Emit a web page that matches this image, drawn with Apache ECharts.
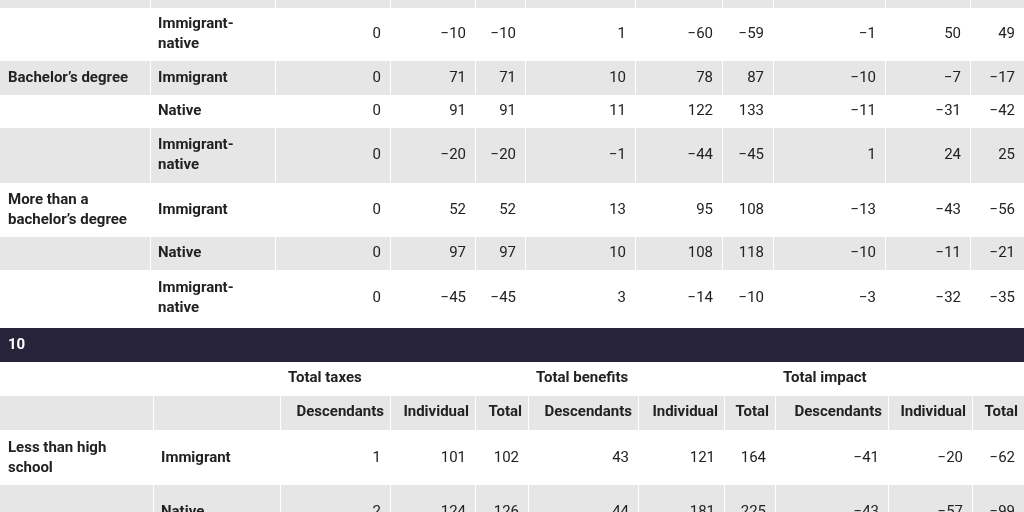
<!DOCTYPE html>
<html><head><meta charset="utf-8">
<script src="https://cdn.jsdelivr.net/npm/echarts@6/dist/echarts.min.js"></script>
<style>html,body{margin:0;padding:0;background:#fff}#main{width:1024px;height:512px}</style>
</head><body><div id="main"></div>
<script>
// upper block (continued table)
var groupsTop = ['', "Bachelor\u2019s degree", '', '', 'More than a\nbachelor\u2019s degree', '', ''];
var kindsTop = ['Immigrant-\nnative', 'Immigrant', 'Native', 'Immigrant-\nnative', 'Immigrant', 'Native', 'Immigrant-\nnative'];
var valuesTop = [
  [0, -10, -10, 1, -60, -59, -1, 50, 49],
  [0, 71, 71, 10, 78, 87, -10, -7, -17],
  [0, 91, 91, 11, 122, 133, -11, -31, -42],
  [0, -20, -20, -1, -44, -45, 1, 24, 25],
  [0, 52, 52, 13, 95, 108, -13, -43, -56],
  [0, 97, 97, 10, 108, 118, -10, -11, -21],
  [0, -45, -45, 3, -14, -10, -3, -32, -35]
];
var sectionTitle = '10';
var groupHeads = ['Total taxes', 'Total benefits', 'Total impact'];
var subHeads = ['Descendants', 'Individual', 'Total', 'Descendants', 'Individual', 'Total', 'Descendants', 'Individual', 'Total'];
var groupsBottom = ['Less than high\nschool', ''];
var kindsBottom = ['Immigrant', 'Native'];
var valuesBottom = [
  [1, 101, 102, 43, 121, 164, -41, -20, -62],
  [2, 124, 126, 44, 181, 225, -43, -57, -99]
];

var GRAY = '#e6e6e6', INK = '#222', FONT = 'Roboto';
var colsTop = [0, 150, 275, 390, 475, 525, 635, 722, 773, 885, 970, 1024];
var colsBot = [0, 153, 280, 390, 475, 528, 638, 724, 775, 888, 972, 1024];
var rowsTop = [8, 61, 95, 128, 183, 237, 270, 327];

function fmt(v) { return v < 0 ? '\u2212' + (-v) : String(v); }
var els = [];
function band(y0, y1, cols) {
  for (var c = 0; c < cols.length - 1; c++) {
    els.push({type: 'rect', shape: {x: cols[c] + (c ? 1 : 0), y: y0, width: cols[c + 1] - cols[c] - (c ? 1 : 0), height: y1 - y0}, style: {fill: GRAY}});
  }
}
function txt(x, y, s, bold, align, col) {
  els.push({type: 'text', x: x, y: y, style: {text: s, fill: col || INK, font: (bold ? 'bold ' : '') + '15px ' + FONT, align: align || 'left', verticalAlign: 'middle', lineHeight: 20}});
}
function rowsOf(groups, kinds, vals, rows, cols, grayFirst) {
  for (var r = 0; r < kinds.length; r++) {
    var y0 = rows[r], y1 = rows[r + 1], ym = (y0 + y1) / 2;
    if ((r % 2 === 0) === grayFirst) band(y0, y1, cols);
    if (groups[r]) txt(8, ym, groups[r], true);
    txt(cols[1] + 8, ym, kinds[r], true);
    for (var c = 0; c < vals[r].length; c++) txt(cols[c + 3] - 9, ym, fmt(vals[r][c]), false, 'right');
  }
}
// cut-off row above
band(0, 8, colsTop);
rowsOf(groupsTop, kindsTop, valuesTop, rowsTop, colsTop, false);
// section bar
els.push({type: 'rect', shape: {x: 0, y: 328, width: 1024, height: 34}, style: {fill: '#27233b'}});
txt(8, 345, sectionTitle, true, 'left', '#fff');
// headers
for (var g = 0; g < groupHeads.length; g++) txt(colsBot[2 + g * 3] + 8, 378, groupHeads[g], true);
band(396, 430, colsBot);
for (var s = 0; s < subHeads.length; s++) txt(colsBot[s + 3] - 6, 412, subHeads[s], true, 'right');
rowsOf(groupsBottom, kindsBottom, valuesBottom, [431, 485, 540], colsBot, false);

var myChart = echarts.init(document.getElementById('main'));
myChart.setOption({animation: false, graphic: els});
</script></body></html>
